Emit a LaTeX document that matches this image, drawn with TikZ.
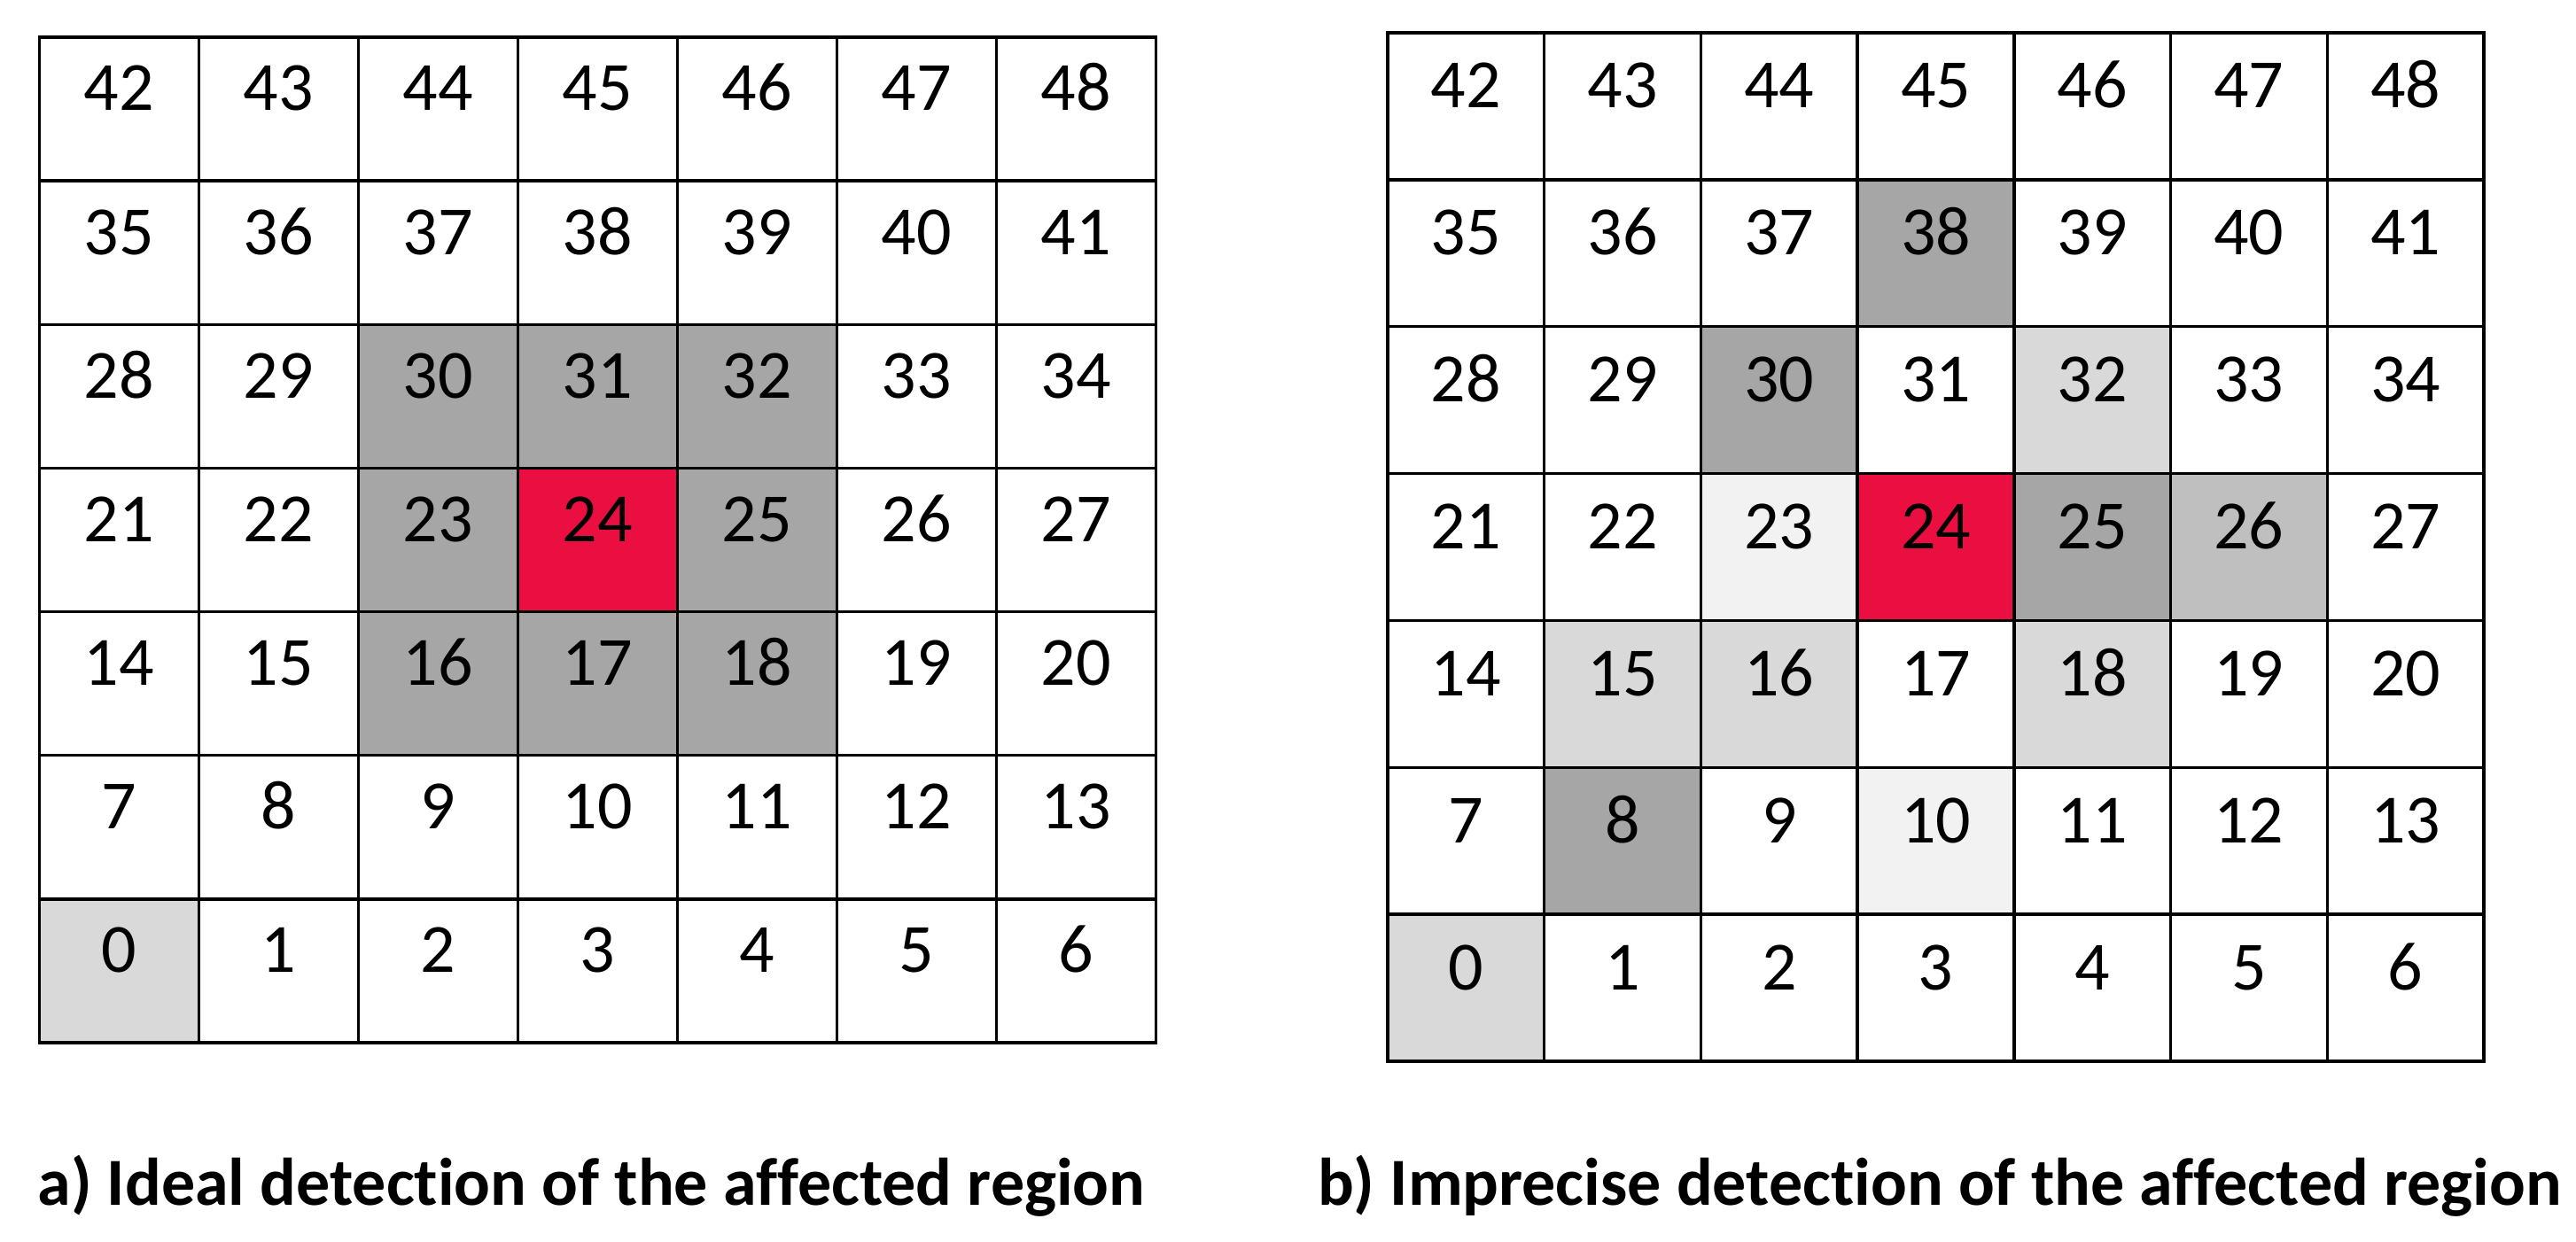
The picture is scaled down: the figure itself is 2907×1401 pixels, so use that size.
\documentclass[tikz,border=0pt]{standalone}
\usepackage{fontspec}
\setmainfont[Ligatures=NoCommon]{Carlito}
\definecolor{dk}{HTML}{A6A6A6}
\definecolor{md}{HTML}{BFBFBF}
\definecolor{lt}{HTML}{D9D9D9}
\definecolor{vl}{HTML}{F2F2F2}
\definecolor{rd}{HTML}{EB0E40}
% colours of grid a
\expandafter\def\csname cA0\endcsname{lt}
\expandafter\def\csname cA16\endcsname{dk}
\expandafter\def\csname cA17\endcsname{dk}
\expandafter\def\csname cA18\endcsname{dk}
\expandafter\def\csname cA23\endcsname{dk}
\expandafter\def\csname cA24\endcsname{rd}
\expandafter\def\csname cA25\endcsname{dk}
\expandafter\def\csname cA30\endcsname{dk}
\expandafter\def\csname cA31\endcsname{dk}
\expandafter\def\csname cA32\endcsname{dk}
% colours of grid b
\expandafter\def\csname cB0\endcsname{lt}
\expandafter\def\csname cB8\endcsname{dk}
\expandafter\def\csname cB10\endcsname{vl}
\expandafter\def\csname cB15\endcsname{lt}
\expandafter\def\csname cB16\endcsname{lt}
\expandafter\def\csname cB18\endcsname{lt}
\expandafter\def\csname cB23\endcsname{vl}
\expandafter\def\csname cB24\endcsname{rd}
\expandafter\def\csname cB25\endcsname{dk}
\expandafter\def\csname cB26\endcsname{md}
\expandafter\def\csname cB30\endcsname{dk}
\expandafter\def\csname cB32\endcsname{lt}
\expandafter\def\csname cB38\endcsname{dk}
\begin{document}
\begin{tikzpicture}[x=0.25pt,y=-0.25pt,
  cellbase/.style={draw=black, line width=0.875pt, inner sep=0pt, outer sep=0pt, anchor=north west},
  cellA/.style={cellbase, minimum width=45pt, minimum height=40.536pt},
  cellB/.style={cellbase, minimum width=44.18pt, minimum height=41.464pt},
  num/.style={anchor=base, inner sep=0pt, font=\fontsize{19.5pt}{22pt}\selectfont},
  caption/.style={anchor=base, inner sep=0pt, font=\fontsize{19pt}{22pt}\selectfont\bfseries}]
\useasboundingbox (0,0) rectangle (2907,1401);
\fill[white] (0,0) rectangle (2907,1401);
\foreach \i in {0,...,48}{
  \pgfmathtruncatemacro\col{mod(\i,7)}
  \pgfmathtruncatemacro\row{6-int(\i/7)}
  \ifcsname cA\i\endcsname \edef\cc{\csname cA\i\endcsname}\else\def\cc{white}\fi
  \node[cellA, fill=\cc] (a\i) at ({44.5+180*\col},{42+162.143*\row}) {};
  \node[num] (na\i) at ([yshift=-20.75pt]a\i.north) {\i};
}
\foreach \i in {0,...,48}{
  \pgfmathtruncatemacro\col{mod(\i,7)}
  \pgfmathtruncatemacro\row{6-int(\i/7)}
  \ifcsname cB\i\endcsname \edef\cc{\csname cB\i\endcsname}\else\def\cc{white}\fi
  \node[cellB, fill=\cc] (b\i) at ({1566+176.714*\col},{37+165.857*\row}) {};
  \node[num] (nb\i) at ([yshift=-21.25pt]b\i.north) {\i};
}
\node[caption] (capa) at (667.5,1360) {a) Ideal detection of the affected region};
\node[caption] (capb) at (2189,1360) {b) Imprecise detection of the affected region};
\end{tikzpicture}
\end{document}
